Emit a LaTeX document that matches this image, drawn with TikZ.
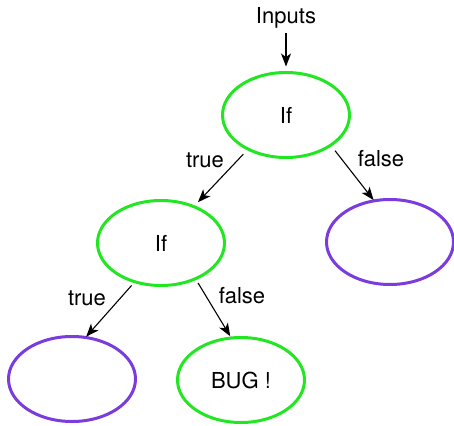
\documentclass[tikz,border=0pt]{standalone}
\usepackage{fontspec}
\setmainfont{TeX Gyre Heros}
\usetikzlibrary{shapes.geometric,arrows.meta}
\definecolor{ifgreen}{RGB}{34,230,34}
\definecolor{leafpurple}{RGB}{122,60,220}
\begin{document}
\begin{tikzpicture}[x=1pt,y=-1pt,
  every node/.style={font=\fontsize{22}{26}\selectfont},
  oval/.style={ellipse, draw, line width=3pt, minimum width=127pt,
    minimum height=85pt, inner sep=0pt, outer sep=0pt},
  test/.style={oval, draw=ifgreen},
  leaf/.style={oval, draw=leafpurple},
  edge/.style={line width=1.1pt,
    -{Stealth[length=13pt,width=10pt,inset=3.5pt]}},
  lbl/.style={inner sep=0pt}]
  \useasboundingbox (0,0) rectangle (454,425);

  % decision nodes and outcomes
  \node[test] (if1) at (286,115) {If};
  \node[test] (if2) at (161,243) {If};
  \node[leaf] (r1)  at (390,242) {};
  \node[leaf] (l2)  at (72,379)  {};
  \node[test] (bug) at (241,380) {BUG !};

  % entry point
  \node[inner sep=2pt] (inputs) at (286,18) {Inputs};
  \draw[edge, shorten <=2pt, shorten >=6pt] (inputs) -- (if1);

  % branches
  \draw[edge, shorten <=7pt, shorten >=6pt] (if1.222.9) -- (if2.48);
  \draw[edge, shorten <=7pt, shorten >=1pt] (if1.-34.5) -- (r1.111.6);
  \draw[edge, shorten <=5pt, shorten >=1pt] (if2.236.6) -- (l2.72.3);
  \draw[edge, shorten <=5pt, shorten >=2pt] (if2.-46.5) -- (bug.103.7);

  % branch labels
  \node[lbl] (t1) at (205,160) {true};
  \node[lbl] (f1) at (381,159) {false};
  \node[lbl] (t2) at (87,298)  {true};
  \node[lbl] (f2) at (242,296) {false};
\end{tikzpicture}
\end{document}
